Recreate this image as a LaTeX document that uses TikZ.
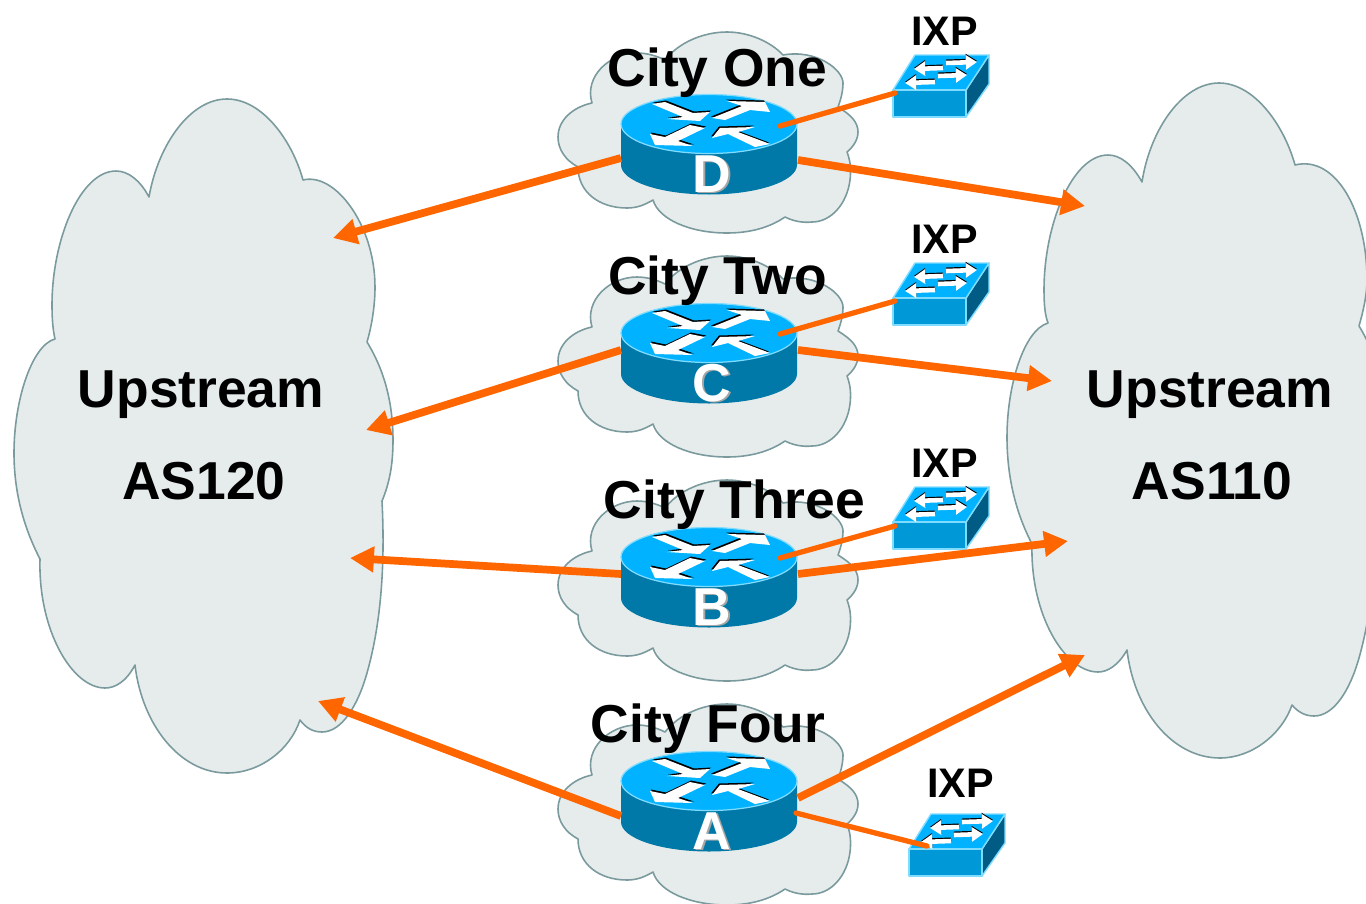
\documentclass[tikz,border=0pt]{standalone}
\usepackage{fontspec}
\setmainfont{Liberation Sans}
\usetikzlibrary{arrows.meta}
\definecolor{cloudfill}{HTML}{E6ECEC}
\definecolor{cloudline}{HTML}{7A9A9E}
\definecolor{linkorange}{HTML}{FF6600}
\definecolor{routertop}{HTML}{00B2FF}
\definecolor{routerside}{HTML}{0078A8}
\definecolor{switchfront}{HTML}{0098D6}
\definecolor{switchside}{HTML}{005C85}
\definecolor{deviceedge}{HTML}{80DCFF}
\newcommand{\shadowletter}[1]{\rlap{\raisebox{-1.1pt}{\hspace{1.1pt}\textcolor{gray!70}{#1}}}\textcolor{white}{#1}}
\tikzset{
	cloudshape/.style={draw=cloudline,fill=cloudfill,line width=0.9pt,line join=round},
	uplink/.style={draw=linkorange,line width=4.4pt,-{Triangle[length=13.6pt,width=14pt]}},
	ixplink/.style={draw=linkorange,line width=3pt,line cap=round},
	biglabel/.style={anchor=base,font=\fontsize{30.4}{36}\selectfont\bfseries},
	ixplabel/.style={anchor=base,font=\fontsize{23.5}{28}\selectfont\bfseries},
	routerlabel/.style={anchor=base,font=\fontsize{30.4}{36}\selectfont\bfseries},
	switcharrow/.style={line width=2.6pt,-{Triangle[length=6.4pt,width=8pt]}},
	citycloud/.pic={
		\path [cloudshape] (-44,-72)
			.. controls (-30,-90) and (-5,-100) .. (18,-100)
			.. controls (40,-100) and (62,-90) .. (74,-77)
			.. controls (108,-83) and (134,-62) .. (134,-49)
			.. controls (134,-41) and (132,-33) .. (129,-25)
			.. controls (142,-17) and (149,-10) .. (149,0)
			.. controls (149,8) and (144,15) .. (138,20)
			.. controls (142,30) and (142,40) .. (141,48)
			.. controls (138,72) and (122,90) .. (103,90)
			.. controls (93,91) and (84,89) .. (76,85)
			.. controls (60,96) and (40,101) .. (18,101)
			.. controls (-18,101) and (-50,88) .. (-56,68)
			.. controls (-66,74) and (-74,76) .. (-82,76)
			.. controls (-110,76) and (-131,60) .. (-131,35)
			.. controls (-144,28) and (-151,17) .. (-151,5)
			.. controls (-151,-12) and (-136,-25) .. (-117,-29)
			.. controls (-125,-55) and (-100,-79) .. (-72,-79)
			.. controls (-62,-79) and (-52,-76) .. (-44,-72)
			-- cycle;
	},
	routerpic/.pic={
		\fill [routerside] (-88,0) -- (-88,41) .. controls (-88,57) and (-49,70.5) .. (0,70.5) .. controls (49,70.5) and (88,57) .. (88,41) -- (88,0) -- cycle;
		\draw [deviceedge,line width=0.7pt,fill=routertop] (0,0) ellipse [x radius=88,y radius=29.5];
		\fill [black,shift={(1,-1.5)}] (-57,-20) -- (-44,-22) -- (-16,-11) -- (1,-12) -- (-9,-3) -- (-42,-5) -- (-26,-7) -- cycle;
		\fill [black,shift={(-1,-1.5)}] (3,-6) -- (16,-4) -- (41,-14) -- (61,-12) -- (56,-22) -- (18,-23) -- (33,-18) -- cycle;
		\fill [black,shift={(1,-1.5)}] (-4,4) -- (-19,1) -- (-44,13) -- (-59,10) -- (-54,21) -- (-16,22) -- (-31,17) -- cycle;
		\fill [black,shift={(-1,-1.5)}] (61,20) -- (46,23) -- (19,10) -- (3,14) -- (11,4) -- (46,3) -- (29,8) -- cycle;
		\fill [white] (-57,-20) -- (-44,-22) -- (-16,-11) -- (1,-12) -- (-9,-3) -- (-42,-5) -- (-26,-7) -- cycle;
		\fill [white] (3,-6) -- (16,-4) -- (41,-14) -- (61,-12) -- (56,-22) -- (18,-23) -- (33,-18) -- cycle;
		\fill [white] (-4,4) -- (-19,1) -- (-44,13) -- (-59,10) -- (-54,21) -- (-16,22) -- (-31,17) -- cycle;
		\fill [white] (61,20) -- (46,23) -- (19,10) -- (3,14) -- (11,4) -- (46,3) -- (29,8) -- cycle;
	},
	switchpic/.pic={
		\draw [deviceedge,line width=0.8pt,line join=round,fill=switchside] (73,0) -- (96,-35) -- (96,-6) -- (73,27) -- cycle;
		\draw [deviceedge,line width=0.8pt,line join=round,fill=routertop] (0,0) -- (22,-35) -- (96,-35) -- (73,0) -- cycle;
		\draw [deviceedge,line width=0.8pt,line join=round,fill=switchfront] (0,0) rectangle (73,27);
		\draw [switcharrow,black] (50,-23.2) -- (21,-22.2);
		\draw [switcharrow,black] (53,-28.2) -- (84,-29.2);
		\draw [switcharrow,black] (42,-9.2) -- (12,-8.2);
		\draw [switcharrow,black] (45,-15.2) -- (74,-16.2);
		\draw [switcharrow,white] (50,-22) -- (21,-21);
		\draw [switcharrow,white] (53,-27) -- (84,-28);
		\draw [switcharrow,white] (42,-8) -- (12,-7);
		\draw [switcharrow,white] (45,-14) -- (74,-15);
	}
}
\begin{document}
\begin{tikzpicture}[x=0.02cm,y=-0.02cm]
	\tikzstyle{every node}+=[inner sep=0pt]
	\useasboundingbox (0,0) rectangle (1366,903);
	\clip (0,0) rectangle (1366,903);
	\path [cloudshape] (149,197)
		.. controls (158,145) and (190,99) .. (227,99)
		.. controls (262,99) and (292,140) .. (303,180)
		.. controls (335,172) and (375,225) .. (375,287)
		.. controls (375,305) and (372,325) .. (367,342)
		.. controls (383,368) and (393,400) .. (393,440)
		.. controls (393,463) and (390,482) .. (382,501)
		.. controls (385,560) and (382,620) .. (367,673)
		.. controls (358,705) and (342,732) .. (322,732)
		.. controls (313,732) and (306,728) .. (300,720)
		.. controls (290,750) and (260,773) .. (227,773)
		.. controls (180,773) and (142,725) .. (135,665)
		.. controls (126,682) and (115,688) .. (105,688)
		.. controls (72,688) and (38,630) .. (40,559)
		.. controls (25,530) and (14,495) .. (14,453)
		.. controls (14,400) and (32,345) .. (55,339)
		.. controls (53,330) and (52,320) .. (52,305)
		.. controls (52,240) and (80,171) .. (116,171)
		.. controls (128,171) and (140,180) .. (149,197)
		-- cycle;
	\path [cloudshape] (1142,182)
		.. controls (1150,130) and (1182,83) .. (1219,83)
		.. controls (1254,83) and (1284,125) .. (1295,165)
		.. controls (1335,155) and (1367,210) .. (1367,280)
		.. controls (1367,295) and (1363,312) .. (1359,326)
		.. controls (1375,352) and (1385,384) .. (1385,424)
		.. controls (1385,447) and (1382,466) .. (1374,485)
		.. controls (1377,545) and (1374,605) .. (1359,658)
		.. controls (1350,690) and (1334,716) .. (1314,716)
		.. controls (1305,716) and (1298,712) .. (1292,705)
		.. controls (1282,734) and (1252,758) .. (1220,758)
		.. controls (1172,758) and (1134,710) .. (1127,650)
		.. controls (1118,666) and (1107,672) .. (1098,672)
		.. controls (1065,672) and (1030,615) .. (1032,544)
		.. controls (1017,515) and (1007,480) .. (1007,437)
		.. controls (1007,385) and (1024,330) .. (1048,323)
		.. controls (1045,315) and (1044,305) .. (1044,290)
		.. controls (1044,225) and (1072,155) .. (1108,155)
		.. controls (1120,155) and (1132,164) .. (1142,182)
		-- cycle;
	\pic at (709,132) {citycloud};
	\pic at (709,356) {citycloud};
	\pic at (709,580) {citycloud};
	\pic at (709,804) {citycloud};
	\pic at (709,124) {routerpic};
	\pic at (709,333) {routerpic};
	\pic at (709,557) {routerpic};
	\pic at (709,781) {routerpic};
	\pic at (893,90) {switchpic};
	\pic at (893,298) {switchpic};
	\pic at (893,522) {switchpic};
	\pic at (909,849) {switchpic};
	\node [routerlabel] (letterD) at (712,192) {\shadowletter{D}};
	\node [routerlabel] (letterC) at (712,401) {\shadowletter{C}};
	\node [routerlabel] (letterB) at (712,625) {\shadowletter{B}};
	\node [routerlabel] (letterA) at (712,849) {\shadowletter{A}};
	\coordinate (routerDwest) at (621,158);
	\coordinate (routerDeast) at (798,160);
	\coordinate (routerDtop) at (780,126);
	\coordinate (switchD) at (895,93);
	\coordinate (routerCwest) at (621,350);
	\coordinate (routerCeast) at (798,350);
	\coordinate (routerCtop) at (780,334);
	\coordinate (switchC) at (895,301);
	\coordinate (routerBwest) at (621,574);
	\coordinate (routerBeast) at (798,574);
	\coordinate (routerBtop) at (780,558);
	\coordinate (switchB) at (895,526);
	\coordinate (routerAwest) at (621,816);
	\coordinate (routerAeast) at (798,798);
	\coordinate (routerAside) at (796,813);
	\coordinate (switchA) at (927,846);
	\coordinate (leftD) at (333,238);
	\coordinate (rightD) at (1085,206);
	\coordinate (leftC) at (366,430);
	\coordinate (rightC) at (1052,381);
	\coordinate (leftB) at (350,558);
	\coordinate (rightB) at (1068,541);
	\coordinate (leftA) at (318,701);
	\coordinate (rightA) at (1085,655);
	\draw [uplink] (routerDwest) -- (leftD);
	\draw [uplink] (routerDeast) -- (rightD);
	\draw [uplink] (routerCwest) -- (leftC);
	\draw [uplink] (routerCeast) -- (rightC);
	\draw [uplink] (routerBwest) -- (leftB);
	\draw [uplink] (routerBeast) -- (rightB);
	\draw [uplink] (routerAwest) -- (leftA);
	\draw [uplink] (routerAeast) -- (rightA);
	\draw [ixplink] (routerDtop) -- (switchD);
	\draw [ixplink] (routerCtop) -- (switchC);
	\draw [ixplink] (routerBtop) -- (switchB);
	\draw [ixplink] (routerAside) -- (switchA);
	\node [biglabel] (cityOne) at (717.5,86.5) {City One};
	\node [biglabel] (cityTwo) at (717.5,294.5) {City Two};
	\node [biglabel] (cityThree) at (734.5,518.5) {City Three};
	\node [biglabel] (cityFour) at (708,742.5) {City Four};
	\node [ixplabel] (ixpD) at (944.5,45.5) {IXP};
	\node [ixplabel] (ixpC) at (944.5,253.5) {IXP};
	\node [ixplabel] (ixpB) at (944.5,477.5) {IXP};
	\node [ixplabel] (ixpA) at (960.5,797.5) {IXP};
	\node [biglabel] (upLeft) at (201,407) {Upstream};
	\node [biglabel] (asLeft) at (204,499) {AS120};
	\node [biglabel] (upRight) at (1210,407) {Upstream};
	\node [biglabel] (asRight) at (1212,499) {AS110};
\end{tikzpicture}
\end{document}
